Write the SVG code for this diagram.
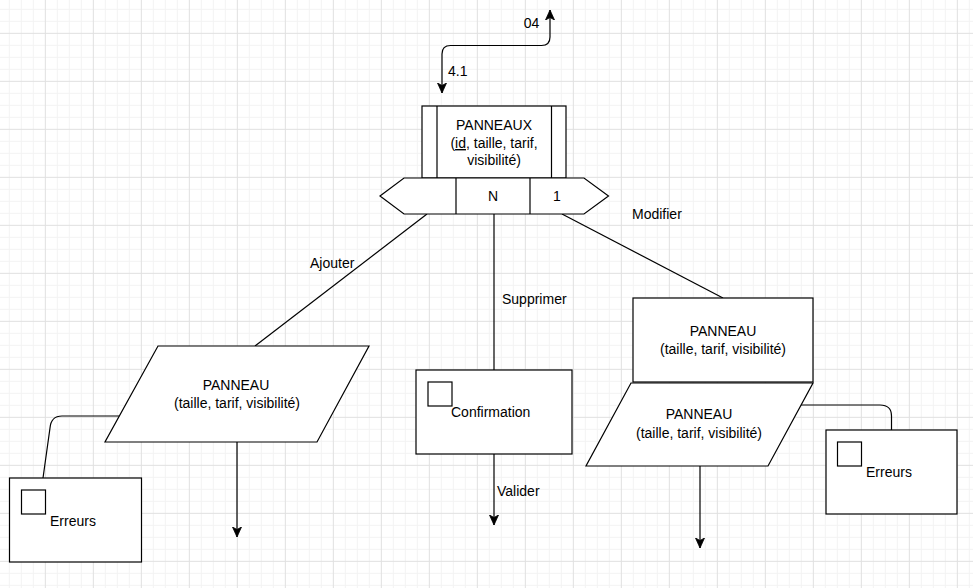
<svg xmlns="http://www.w3.org/2000/svg" width="973" height="588" viewBox="0 0 973 588">
<style>
.sh{fill:#fff;stroke:#000;stroke-width:1.2}
.ln{fill:none;stroke:#000;stroke-width:1.2}
.t{font-family:"Liberation Sans",Arial,sans-serif;font-size:14px;fill:#000}
.c{text-anchor:middle}
</style>
<defs>
<pattern id="grid" patternUnits="userSpaceOnUse" x="44.83" y="32.83" width="48" height="48">
<rect x="12" y="0" width="1" height="48" fill="#f3f3f3"/>
<rect x="24" y="0" width="1" height="48" fill="#f3f3f3"/>
<rect x="36" y="0" width="1" height="48" fill="#f3f3f3"/>
<rect x="0" y="12" width="48" height="1" fill="#f3f3f3"/>
<rect x="0" y="24" width="48" height="1" fill="#f3f3f3"/>
<rect x="0" y="36" width="48" height="1" fill="#f3f3f3"/>
<rect x="0" y="0" width="1" height="48" fill="#e0e0e0"/>
<rect x="0" y="0" width="48" height="1" fill="#e0e0e0"/>
</pattern>
<marker id="arr" markerUnits="userSpaceOnUse" viewBox="0 0 10 10" refX="10" refY="5" markerWidth="10" markerHeight="10" orient="auto-start-reverse">
<path d="M0,0.5 L10,5 L0,9.5 L2.5,5 z" fill="#000" stroke="#000" stroke-width="0.8"/>
</marker>
</defs>
<rect width="973" height="588" fill="#fff"/>
<rect width="973" height="588" fill="url(#grid)"/>

<g id="connectors">
<path class="ln" d="M550 10 L550 37 Q550 45.5 541.5 45.5 L450.5 45.5 Q442 45.5 442 54 L442 93" marker-start="url(#arr)" marker-end="url(#arr)"/>
<text class="t" x="531.5" y="28" text-anchor="middle">04</text>
<text class="t" x="448" y="76">4.1</text>
<path class="ln" d="M427 214 L255 346"/>
<text class="t" x="310" y="268">Ajouter</text>
<path class="ln" d="M494 214 L494 370"/>
<text class="t" x="502" y="304">Supprimer</text>
<path class="ln" d="M562 214 L723 298"/>
<text class="t" x="632" y="219">Modifier</text>
<path class="ln" d="M120 416 L62 416 Q51 416 50 428 L43 478"/>
<path class="ln" d="M237 442 L237 537" marker-end="url(#arr)"/>
<path class="ln" d="M494 454 L494 525" marker-end="url(#arr)"/>
<text class="t" x="497" y="496">Valider</text>
<path class="ln" d="M801 405 L880 405 Q891.5 405 891.5 416 L891.5 430"/>
<path class="ln" d="M700 466 L700 548" marker-end="url(#arr)"/>
</g>

<g id="panneaux">
<rect class="sh" x="422" y="106" width="144" height="72"/>
<path class="ln" d="M437 106 V178 M551.5 106 V178"/>
<text class="t c" x="494" y="130">PANNEAUX</text>
<text class="t c" x="494" y="148">(<tspan text-decoration="underline">id</tspan>, taille, tarif,</text>
<text class="t c" x="494" y="165">visibilité)</text>
</g>

<g id="cardinalites">
<path class="sh" d="M380 196 L404 178 L584 178 L608.5 196 L584 214 L404 214 Z"/>
<path class="ln" d="M456 178 V214 M530 178 V214"/>
<text class="t c" x="493" y="201">N</text>
<text class="t c" x="557" y="201">1</text>
</g>

<g id="ajouter-panneau">
<path class="sh" d="M158 346 L369 346 L317 442 L105 442 Z"/>
<text class="t c" x="236" y="390">PANNEAU</text>
<text class="t c" x="237" y="408">(taille, tarif, visibilité)</text>
</g>

<g id="erreurs-gauche">
<rect class="sh" x="9.5" y="478" width="132" height="84"/>
<rect class="sh" x="21.5" y="490" width="24" height="24"/>
<text class="t" x="50" y="526">Erreurs</text>
</g>

<g id="confirmation">
<rect class="sh" x="416" y="370" width="156" height="84"/>
<rect class="sh" x="428" y="382" width="24" height="24"/>
<text class="t" x="451" y="417">Confirmation</text>
</g>

<g id="modifier-panneau">
<rect class="sh" x="633" y="298" width="180" height="84"/>
<text class="t c" x="723" y="336">PANNEAU</text>
<text class="t c" x="723" y="354">(taille, tarif, visibilité)</text>
</g>

<g id="modifier-saisie">
<path class="sh" d="M631 383 L813 383 L768 466 L586 466 Z"/>
<text class="t c" x="699" y="419">PANNEAU</text>
<text class="t c" x="699" y="438">(taille, tarif, visibilité)</text>
</g>

<g id="erreurs-droite">
<rect class="sh" x="826" y="430" width="131" height="84"/>
<rect class="sh" x="837.5" y="442" width="24" height="24"/>
<text class="t" x="866" y="477">Erreurs</text>
</g>
</svg>
